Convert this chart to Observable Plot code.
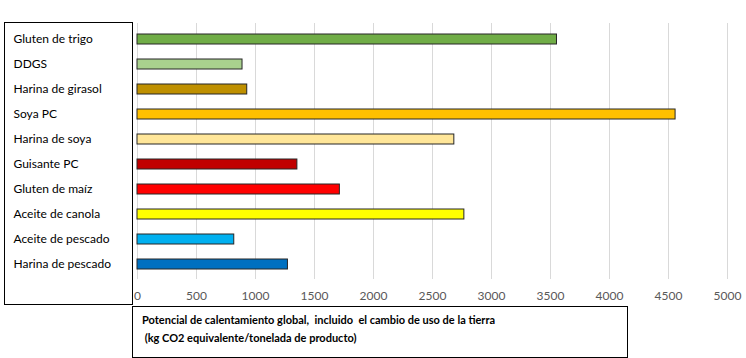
<!DOCTYPE html>
<html>
<head>
<meta charset="utf-8">
<script src="https://cdn.jsdelivr.net/npm/d3@7"></script>
<script src="https://cdn.jsdelivr.net/npm/@observablehq/plot@0.6"></script>
<style>
  body { margin: 0; background: #fff; font-family: Lato, "Open Sans", sans-serif; }
  #wrap { position: relative; width: 746px; height: 358px; overflow: hidden; }
  #leftbox { position: absolute; left: 4px; top: 22px; width: 129px; height: 283px; border: 1px solid #000; box-sizing: border-box; pointer-events: none; }
  #caption { position: absolute; left: 132px; top: 306px; width: 496px; height: 52px; border: 1px solid #000; box-sizing: border-box; padding: 4px 0 0 9px; font-weight: bold; font-size: 11px; line-height: 18px; color: #000; }
</style>
</head>
<body>
<div id="wrap">
  <div id="chart"></div>
  <div id="leftbox"></div>
  <div id="caption">Potencial de calentamiento global,&nbsp; incluido&nbsp; el cambio de uso de la tierra<br>&nbsp;(kg CO2 equivalente/tonelada de producto)</div>
</div>
<script>
const categories = ["Gluten de trigo", "DDGS", "Harina de girasol", "Soya PC", "Harina de soya", "Guisante PC", "Gluten de maíz", "Aceite de canola", "Aceite de pescado", "Harina de pescado"];
const values = [3555, 890, 930, 4560, 2685, 1355, 1715, 2770, 820, 1275];
const colors = ["#70ad47", "#a9d18e", "#bf9000", "#ffc000", "#ffe699", "#c00000", "#ff0000", "#ffff00", "#00b0f0", "#0070c0"];
const xTicks = [0, 500, 1000, 1500, 2000, 2500, 3000, 3500, 4000, 4500, 5000];

const data = categories.map((c, i) => ({category: c, value: values[i], color: colors[i]}));

const chart = Plot.plot({
  width: 746,
  height: 306,
  marginLeft: 137,
  marginRight: 19,
  marginTop: 15,
  marginBottom: 19,
  style: {fontFamily: "Lato, 'Open Sans', sans-serif", fontSize: "12px", background: "transparent"},
  x: {domain: [0, 5000], axis: null},
  y: {domain: categories, padding: 0.61, axis: null},
  marks: [
    Plot.gridX(xTicks, {stroke: "#d9d9d9", strokeOpacity: 1, strokeWidth: 1, insetTop: 8, insetBottom: 8}),
    Plot.barX(data, {x: "value", y: "category", fill: "color", stroke: "#262626", strokeWidth: 1}),
    Plot.axisX({ticks: xTicks, tickSize: 0, tickPadding: 4, tickFormat: d => String(d), color: "#595959", fontSize: 12, label: null}),
    Plot.axisY({tickSize: 0, tickPadding: 0, textAnchor: "start", dx: -124, color: "#000", fontSize: 12, label: null})
  ]
});
document.getElementById("chart").appendChild(chart);
</script>
</body>
</html>
